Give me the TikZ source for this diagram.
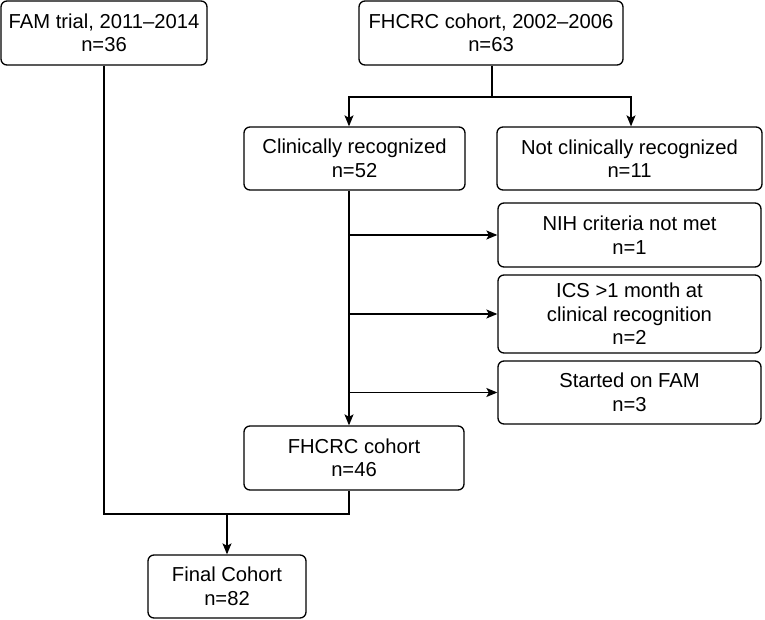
\documentclass[tikz,border=0pt]{standalone}
\usepackage{fontspec}
\setmainfont{Liberation Sans}
\usetikzlibrary{arrows.meta,calc}
\begin{document}
\begin{tikzpicture}[x=1pt,y=-1pt,
  box/.style={draw,line width=1.3pt,rounded corners=6pt,align=center,inner sep=0pt,
    font=\fontsize{20.2}{23.5}\selectfont},
  conn/.style={line width=1.3pt},
  arr/.style={conn,-{Stealth[length=11pt,width=9pt,inset=2.5pt]}}]
\useasboundingbox (0,0) rectangle (765,620);
\node[box,minimum width=206pt,minimum height=64pt] (fam) at (104,33) {FAM trial, 2011--2014\\n=36};
\node[box,minimum width=264pt,minimum height=64pt] (top) at (491,33) {FHCRC cohort, 2002--2006\\n=63};
\node[box,minimum width=221pt,minimum height=63pt] (clin) at (354.5,158.5) {Clinically recognized\\n=52};
\node[box,minimum width=265pt,minimum height=63pt] (notclin) at (629.5,158.5) {Not clinically recognized\\n=11};
\node[box,minimum width=263pt,minimum height=64pt] (nih) at (629.5,235) {NIH criteria not met\\n=1};
\node[box,minimum width=263pt,minimum height=78pt] (ics) at (629.5,314) {ICS >1 month at\\clinical recognition\\n=2};
\node[box,minimum width=263pt,minimum height=63pt] (fam3) at (629.5,392.5) {Started on FAM\\n=3};
\node[box,minimum width=220pt,minimum height=64pt] (fh46) at (354,458) {FHCRC cohort\\n=46};
\node[box,minimum width=158pt,minimum height=63pt] (final) at (227,586.5) {Final Cohort\\n=82};
\coordinate (spine) at (349,0);
\coordinate (split) at (492,97);
\coordinate (join) at (227,514);
\coordinate (rsplit) at (631,97);
% top split
\draw[conn] (top.south -| split) -- (split);
\draw[arr] (split) -| (clin.north -| spine);
\draw[arr] (split) -| (notclin.north -| rsplit);
% spine
\draw[arr] (clin.south -| spine) -- (fh46.north -| spine);
\draw[arr] (nih.west -| spine) -- (nih.west);
\draw[arr] (ics.west -| spine) -- (ics.west);
\draw[arr] (fam3.west -| spine) -- (fam3.west);
% join
\draw[conn] (fam.south) |- (join) -| (fh46.south -| spine);
\draw[arr] (join) -- (final.north);
\end{tikzpicture}
\end{document}
